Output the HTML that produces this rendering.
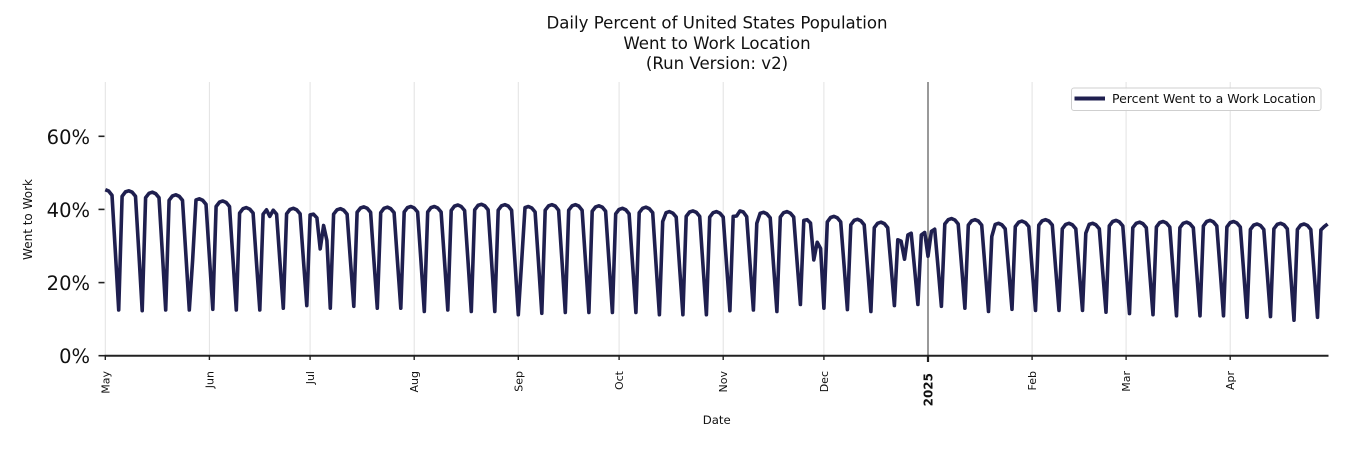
<!DOCTYPE html>
<html>
<head>
<meta charset="utf-8">
<style>
  html,body{margin:0;padding:0;background:#fff;}
  svg{display:block;}
  text{font-family:"DejaVu Sans","Liberation Sans",sans-serif;fill:#111;}
</style>
</head>
<body>
<svg id="chart" width="1350" height="450" viewBox="0 0 1350 450" xmlns="http://www.w3.org/2000/svg">
  <rect x="0" y="0" width="1350" height="450" fill="#fff"/>
  <!-- title -->
  <text x="717" y="28.5" font-size="16.6" text-anchor="middle">Daily Percent of United States Population</text>
  <text x="717" y="48.8" font-size="16.6" text-anchor="middle">Went to Work Location</text>
  <text x="717" y="69" font-size="16.6" text-anchor="middle">(Run Version: v2)</text>

  <!-- vertical grid lines -->
  <g stroke="#e2e2e2" stroke-width="1">
    <line x1="105.3" y1="82" x2="105.3" y2="355"/>
    <line x1="209.4" y1="82" x2="209.4" y2="355"/>
    <line x1="310.1" y1="82" x2="310.1" y2="355"/>
    <line x1="414.2" y1="82" x2="414.2" y2="355"/>
    <line x1="518.3" y1="82" x2="518.3" y2="355"/>
    <line x1="619.1" y1="82" x2="619.1" y2="355"/>
    <line x1="723.2" y1="82" x2="723.2" y2="355"/>
    <line x1="823.9" y1="82" x2="823.9" y2="355"/>
    <line x1="1032.1" y1="82" x2="1032.1" y2="355"/>
    <line x1="1126.1" y1="82" x2="1126.1" y2="355"/>
    <line x1="1230.2" y1="82" x2="1230.2" y2="355"/>
  </g>
  <!-- 2025 line -->
  <line x1="928" y1="82" x2="928" y2="356" stroke="#333" stroke-width="1"/>

  <!-- data line -->
  <polyline id="series" fill="none" stroke="#1f1f4f" stroke-width="3.6" stroke-linejoin="round" stroke-linecap="butt" points=""/>

  <!-- bottom spine -->
  <line x1="104.5" y1="355.7" x2="1328.5" y2="355.7" stroke="#222" stroke-width="2"/>

  <!-- y ticks -->
  <g stroke="#222" stroke-width="1.6">
    <line x1="98.5" y1="355.7" x2="104.5" y2="355.7"/>
    <line x1="98.5" y1="282.6" x2="104.5" y2="282.6"/>
    <line x1="98.5" y1="209.4" x2="104.5" y2="209.4"/>
    <line x1="98.5" y1="136.3" x2="104.5" y2="136.3"/>
  </g>
  <g font-size="19.5" text-anchor="end">
    <text x="90" y="363.2">0%</text>
    <text x="90" y="290">20%</text>
    <text x="90" y="216.9">40%</text>
    <text x="90" y="143.8">60%</text>
  </g>
  <text transform="translate(32,219.5) rotate(-90)" font-size="12" text-anchor="middle">Went to Work</text>

  <!-- x ticks -->
  <g stroke="#222" stroke-width="1.4">
    <line x1="105.3" y1="355.7" x2="105.3" y2="360"/>
    <line x1="209.4" y1="355.7" x2="209.4" y2="360"/>
    <line x1="310.1" y1="355.7" x2="310.1" y2="360"/>
    <line x1="414.2" y1="355.7" x2="414.2" y2="360"/>
    <line x1="518.3" y1="355.7" x2="518.3" y2="360"/>
    <line x1="619.1" y1="355.7" x2="619.1" y2="360"/>
    <line x1="723.2" y1="355.7" x2="723.2" y2="360"/>
    <line x1="823.9" y1="355.7" x2="823.9" y2="360"/>
    <line x1="1032.1" y1="355.7" x2="1032.1" y2="360"/>
    <line x1="1126.1" y1="355.7" x2="1126.1" y2="360"/>
    <line x1="1230.2" y1="355.7" x2="1230.2" y2="360"/>
  </g>
  <line x1="928" y1="355.7" x2="928" y2="362" stroke="#222" stroke-width="2.2"/>

  <g font-size="11" text-anchor="end">
    <text transform="translate(109.3,371) rotate(-90)">May</text>
    <text transform="translate(213.4,371) rotate(-90)">Jun</text>
    <text transform="translate(314.1,371) rotate(-90)">Jul</text>
    <text transform="translate(418.2,371) rotate(-90)">Aug</text>
    <text transform="translate(522.3,371) rotate(-90)">Sep</text>
    <text transform="translate(623.1,371) rotate(-90)">Oct</text>
    <text transform="translate(727.2,371) rotate(-90)">Nov</text>
    <text transform="translate(827.9,371) rotate(-90)">Dec</text>
    <text transform="translate(1036.1,371) rotate(-90)">Feb</text>
    <text transform="translate(1130.1,371) rotate(-90)">Mar</text>
    <text transform="translate(1234.2,371) rotate(-90)">Apr</text>
  </g>
  <text transform="translate(932.3,373) rotate(-90)" font-size="12" font-weight="bold" text-anchor="end">2025</text>

  <text x="716.7" y="424" font-size="11.7" text-anchor="middle">Date</text>

  <!-- legend -->
  <rect x="1071.5" y="88" width="249.5" height="22.5" rx="2.5" ry="2.5" fill="#fff" fill-opacity="0.85" stroke="#cfcfcf" stroke-width="1"/>
  <line x1="1074.5" y1="98.5" x2="1105" y2="98.5" stroke="#1f1f4f" stroke-width="4"/>
  <text x="1112" y="103" font-size="12.5">Percent Went to a Work Location</text>
</svg>
<script>
(function(){
  var P=[45.4,45.1,44.7,44.0,42.9,42.3,40.5,40.2,40.3,38.7,
         40.2,40.7,40.6,40.8,40.8,41.2,41.4,41.3,40.8,41.3,
         41.3,41.0,40.3,40.6,39.4,39.6,39.4,39.6,39.2,39.4,
         37.2,38.1,37.3,36.5,34.0,34.5,37.5,37.2,36.2,36.8,
         37.2,36.2,36.2,37.0,36.5,36.7,36.5,37.0,36.7,36.0,
         36.2,36.0,36.0];
  var B=[12.5,12.3,12.5,12.5,12.7,12.5,12.5,13.0,13.7,13.0,
         13.5,13.0,13.0,12.1,12.5,12.1,12.1,11.2,11.6,11.8,
         11.8,11.8,11.8,11.2,11.2,11.2,12.3,12.5,12.1,14.0,
         13.0,12.6,12.1,13.7,14.0,13.5,13.0,12.1,12.7,12.4,
         12.4,12.4,11.9,11.5,11.2,10.9,10.9,10.9,10.5,10.7,
         9.7,10.5,10.5];
  var ov={
    26:26,
    49:38.1,
    61:38.5,62:38.7,63:37.7,64:29.2,65:35.6,66:31.5,67:13.0,
    124:26,
    166:36.7,
    187:38.1,188:38.2,189:39.6,190:39.3,191:38.0,
    194:36.2,
    208:37.0,209:37.2,210:36.3,211:26.2,212:31.0,213:29.3,214:13.0,
    236:31.7,237:31.3,238:26.4,239:33.0,240:33.5,241:23.8,242:14.0,
    243:33.0,244:33.7,245:27.2,246:34.0,247:34.6,248:24.0,249:13.5,
    264:32.6,
    292:33.5,
    362:34.4,363:35.3,364:36.0
  };
  var pts=[];
  for(var d=0; d<=364; d++){
    var w=Math.floor((d+2)/7), dow=(d+2)%7;
    var p=P[w], b=B[w], v;
    if(ov[d]!==undefined) v=ov[d];
    else if(dow===0) v=p-1.5;
    else if(dow===1) v=p-0.3;
    else if(dow===2) v=p;
    else if(dow===3) v=p-0.4;
    else if(dow===4) v=p-1.5;
    else if(dow===5) v=((p-1.5)+b)/2;
    else v=b;
    var x=105.3+d*3.358, y=355.7-v*3.657;
    pts.push(x.toFixed(1)+","+y.toFixed(1));
  }
  document.getElementById("series").setAttribute("points", pts.join(" "));
})();
</script>
</body>
</html>
